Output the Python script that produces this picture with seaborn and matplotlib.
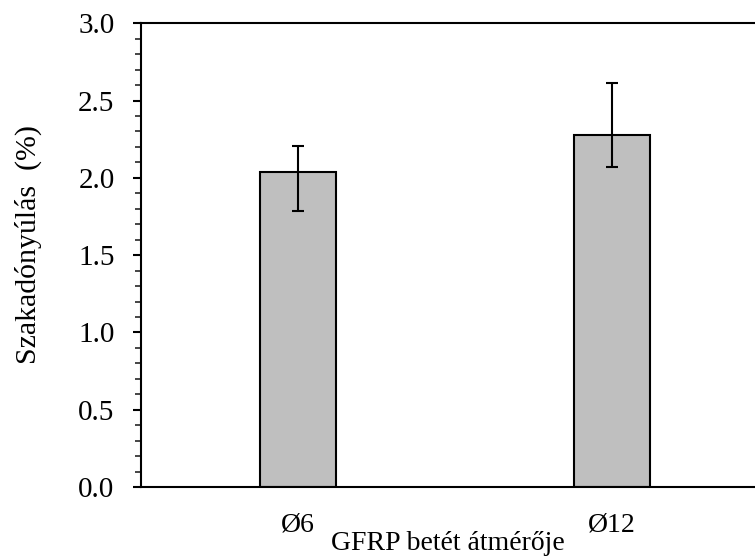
import matplotlib
matplotlib.use("Agg")
import matplotlib.pyplot as plt
import seaborn as sns
import pandas as pd
import numpy as np
from matplotlib.ticker import MultipleLocator

categories = ["Ø6", "Ø12"]
means = [2.035, 2.277]
err_low = [1.783, 2.068]
err_high = [2.208, 2.611]
yticks = [0.0, 0.5, 1.0, 1.5, 2.0, 2.5, 3.0]

sns.set_theme(style="white")
plt.rcParams['font.family'] = ['Liberation Serif', 'DejaVu Serif']

W, H = 755, 557
fig = plt.figure(figsize=(W / 100, H / 100), dpi=100)
ax = fig.add_axes([141 / W, 1 - 487 / H, (769.3 - 141) / W, (487 - 23.3) / H])

df = pd.DataFrame({"cat": categories, "val": means})
sns.barplot(data=df, x="cat", y="val", ax=ax, color="#bfbfbf", width=0.242,
            edgecolor="black", linewidth=1.5, saturation=1, errorbar=None)

x = np.arange(len(categories))
lo = np.array(means) - np.array(err_low)
hi = np.array(err_high) - np.array(means)
ax.errorbar(x, means, yerr=[lo, hi], fmt="none", ecolor="black",
            elinewidth=1.5, capsize=4.3, capthick=1.5, zorder=5)

ax.set_xlim(-0.5, 1.5)
ax.set_ylim(0, 3.0)
ax.set_yticks(yticks)
ax.set_yticklabels([f"{v:.1f}" for v in yticks])
ax.yaxis.set_minor_locator(MultipleLocator(0.1))
ax.tick_params(axis="y", which="major", direction="out", length=6, width=1.5,
               pad=13, labelsize=21, left=True, colors="black")
ax.tick_params(axis="y", which="minor", direction="out", length=4, width=1.2, left=True)
ax.tick_params(axis="x", which="both", length=0, pad=18, labelsize=20, colors="black")
for s in ax.spines.values():
    s.set_color("black")
    s.set_linewidth(1.5)
ax.set_xlabel("")
ax.set_ylabel("Szakadónyúlás  (%)", fontsize=21.5, color="black")
ax.yaxis.set_label_coords(42 / W, 1 - 244 / H, transform=fig.transFigure)
fig.text(448 / W, 1 - 550 / H, "GFRP betét átmérője", ha="center", va="baseline",
         fontsize=20, color="black")

fig.savefig("out.png", dpi=100)
